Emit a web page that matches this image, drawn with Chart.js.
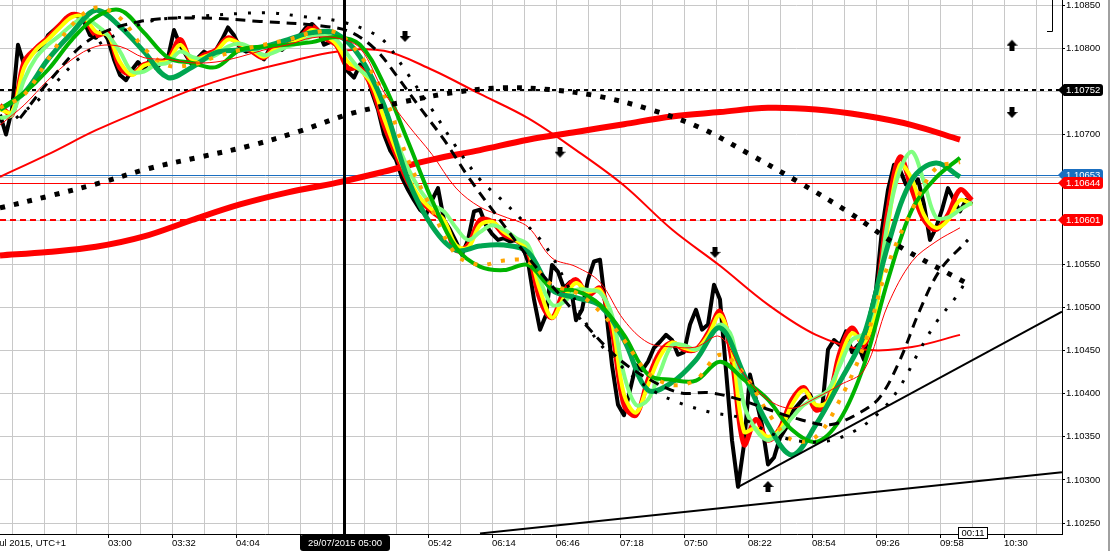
<!DOCTYPE html>
<html>
<head>
<meta charset="utf-8">
<title>EURUSD M1</title>
<script src="https://cdn.jsdelivr.net/npm/chart.js@4.4.1/dist/chart.umd.min.js"></script>
<style>
  html, body { margin: 0; padding: 0; background: #fff; }
  #wrap { width: 1110px; height: 551px; position: relative; }
</style>
</head>
<body>
<div id="wrap"><canvas id="chart" width="1110" height="551"></canvas></div>
<script>
// x = number of 1-minute bars from the left edge of the window
const timeLabels = ['03:00', '03:32', '04:04', '04:36', '05:08', '05:42', '06:14', '06:46',
  '07:18', '07:50', '08:22', '08:54', '09:26', '09:58', '10:30'];
const firstLabelBar = 54;
const labelEvery = 32;
const gridEvery = 16;
const priceTicks = [1.1025, 1.103, 1.1035, 1.104, 1.1045, 1.105, 1.1055, 1.106, 1.1065, 1.107, 1.1075, 1.108, 1.1085];
const viewLow = 1.102374;
const viewHigh = 1.108558;

// price, sampled every 3 bars
const closeStep = 3;
const closes = [
  1.10723, 1.10700, 1.10729, 1.10804, 1.10781, 1.10792, 1.10798, 1.10800, 1.10815, 1.10821,
  1.10827, 1.10835, 1.10839, 1.10837, 1.10831, 1.10815, 1.10812, 1.10821, 1.10810, 1.10787,
  1.10769, 1.10763, 1.10775, 1.10784, 1.10775, 1.10787, 1.10777, 1.10784, 1.10789, 1.10821,
  1.10804, 1.10792, 1.10781, 1.10789, 1.10796, 1.10792, 1.10798, 1.10810, 1.10824, 1.10815,
  1.10800, 1.10796, 1.10798, 1.10792, 1.10787, 1.10800, 1.10804, 1.10798, 1.10805, 1.10807,
  1.10815, 1.10824, 1.10828, 1.10821, 1.10804, 1.10807, 1.10810, 1.10792, 1.10773, 1.10766,
  1.10781, 1.10775, 1.10749, 1.10729, 1.10700, 1.10682, 1.10671, 1.10650, 1.10636, 1.10624,
  1.10613, 1.10607, 1.10624, 1.10638, 1.10601, 1.10590, 1.10576, 1.10561, 1.10578, 1.10611,
  1.10613, 1.10595, 1.10585, 1.10578, 1.10580, 1.10576, 1.10578, 1.10572, 1.10553, 1.10509,
  1.10474, 1.10491, 1.10549, 1.10541, 1.10522, 1.10529, 1.10485, 1.10497, 1.10532, 1.10553,
  1.10555, 1.10497, 1.10433, 1.10387, 1.10375, 1.10404, 1.10433, 1.10427, 1.10437, 1.10453,
  1.10460, 1.10468, 1.10462, 1.10445, 1.10448, 1.10480, 1.10497, 1.10474, 1.10480, 1.10526,
  1.10509, 1.10427, 1.10346, 1.10292, 1.10341, 1.10422, 1.10393, 1.10364, 1.10318, 1.10326,
  1.10349, 1.10360, 1.10379, 1.10387, 1.10395, 1.10399, 1.10383, 1.10381, 1.10451, 1.10462,
  1.10456, 1.10472, 1.10448, 1.10456, 1.10439, 1.10491, 1.10520, 1.10590, 1.10636, 1.10665,
  1.10659, 1.10642, 1.10638, 1.10648, 1.10619, 1.10578, 1.10592, 1.10613, 1.10638, 1.10624,
  1.10611, 1.10624, 1.10619
];

// fast averages, every 6 bars
const fastStep = 6;
const redMa = [
  1.10734, 1.10723, 1.10784, 1.10800, 1.10812, 1.10827, 1.10839, 1.10835, 1.10815, 1.10818,
  1.10777, 1.10770, 1.10781, 1.10783, 1.10787, 1.10810, 1.10784, 1.10792, 1.10798, 1.10812,
  1.10804, 1.10796, 1.10789, 1.10804, 1.10804, 1.10812, 1.10825, 1.10812, 1.10804, 1.10777,
  1.10777, 1.10754, 1.10711, 1.10677, 1.10645, 1.10624, 1.10611, 1.10599, 1.10566, 1.10572,
  1.10601, 1.10599, 1.10584, 1.10578, 1.10564, 1.10509, 1.10488, 1.10518, 1.10532, 1.10514,
  1.10522, 1.10474, 1.10387, 1.10375, 1.10416, 1.10448, 1.10459, 1.10451, 1.10451, 1.10470,
  1.10495, 1.10439, 1.10341, 1.10370, 1.10346, 1.10360, 1.10393, 1.10407, 1.10381, 1.10393,
  1.10448, 1.10476, 1.10456, 1.10509, 1.10613, 1.10674, 1.10636, 1.10601, 1.10590, 1.10607,
  1.10636, 1.10624
];
const yellowMa = [
  1.10729, 1.10726, 1.10777, 1.10798, 1.10810, 1.10824, 1.10836, 1.10836, 1.10819, 1.10815,
  1.10784, 1.10769, 1.10780, 1.10783, 1.10785, 1.10804, 1.10787, 1.10790, 1.10796, 1.10810,
  1.10805, 1.10798, 1.10790, 1.10800, 1.10804, 1.10810, 1.10821, 1.10815, 1.10805, 1.10784,
  1.10775, 1.10758, 1.10719, 1.10682, 1.10650, 1.10627, 1.10613, 1.10601, 1.10572, 1.10569,
  1.10595, 1.10599, 1.10587, 1.10578, 1.10566, 1.10520, 1.10488, 1.10511, 1.10528, 1.10518,
  1.10520, 1.10483, 1.10399, 1.10378, 1.10410, 1.10443, 1.10459, 1.10453, 1.10451, 1.10467,
  1.10491, 1.10451, 1.10356, 1.10360, 1.10350, 1.10358, 1.10387, 1.10404, 1.10387, 1.10391,
  1.10439, 1.10470, 1.10459, 1.10499, 1.10595, 1.10665, 1.10648, 1.10607, 1.10592, 1.10601,
  1.10624, 1.10619
];
const lightGreenMa = [
  1.10719, 1.10723, 1.10763, 1.10789, 1.10804, 1.10815, 1.10827, 1.10835, 1.10827, 1.10815,
  1.10796, 1.10773, 1.10773, 1.10781, 1.10783, 1.10796, 1.10790, 1.10787, 1.10792, 1.10802,
  1.10805, 1.10800, 1.10792, 1.10796, 1.10802, 1.10806, 1.10814, 1.10815, 1.10810, 1.10792,
  1.10775, 1.10763, 1.10734, 1.10694, 1.10661, 1.10636, 1.10619, 1.10611, 1.10592, 1.10578,
  1.10587, 1.10595, 1.10590, 1.10580, 1.10572, 1.10532, 1.10503, 1.10506, 1.10520, 1.10520,
  1.10517, 1.10491, 1.10422, 1.10387, 1.10393, 1.10425, 1.10456, 1.10456, 1.10451, 1.10462,
  1.10480, 1.10465, 1.10387, 1.10358, 1.10346, 1.10356, 1.10372, 1.10387, 1.10395, 1.10404,
  1.10433, 1.10462, 1.10470, 1.10509, 1.10601, 1.10659, 1.10680, 1.10645, 1.10604, 1.10604,
  1.10613, 1.10621
];

// slower averages, every 12 bars
const slowStep = 12;
const tealMa = [
  1.10729, 1.10748, 1.10787, 1.10818, 1.10844, 1.10825, 1.10796, 1.10766, 1.10778, 1.10795,
  1.10798, 1.10802, 1.10810, 1.10818, 1.10817, 1.10790, 1.10734, 1.10648, 1.10594, 1.10566,
  1.10571, 1.10572, 1.10564, 1.10520, 1.10511, 1.10502, 1.10462, 1.10404, 1.10413, 1.10439,
  1.10476, 1.10422, 1.10364, 1.10329, 1.10364, 1.10414, 1.10468, 1.10572, 1.10648, 1.10667,
  1.10651
];
const greenMa = [
  1.10729, 1.10748, 1.10775, 1.10810, 1.10836, 1.10844, 1.10818, 1.10789, 1.10783, 1.10778,
  1.10798, 1.10802, 1.10804, 1.10807, 1.10813, 1.10804, 1.10758, 1.10692, 1.10624, 1.10569,
  1.10547, 1.10543, 1.10549, 1.10522, 1.10519, 1.10503, 1.10468, 1.10422, 1.10416, 1.10415,
  1.10437, 1.10416, 1.10393, 1.10358, 1.10344, 1.10370, 1.10433, 1.10532, 1.10613, 1.10650,
  1.10673
];
const orangeMa = [
  1.10731, 1.10746, 1.10787, 1.10827, 1.10847, 1.10835, 1.10800, 1.10780, 1.10781, 1.10790,
  1.10798, 1.10804, 1.10810, 1.10818, 1.10818, 1.10792, 1.10746, 1.10671, 1.10613, 1.10561,
  1.10549, 1.10554, 1.10553, 1.10526, 1.10517, 1.10495, 1.10462, 1.10424, 1.10410, 1.10416,
  1.10445, 1.10423, 1.10378, 1.10346, 1.10350, 1.10393, 1.10456, 1.10549, 1.10613, 1.10661,
  1.10668
];
const thinRedMa = [
  1.10711, 1.10734, 1.10763, 1.10787, 1.10802, 1.10802, 1.10789, 1.10787, 1.10783, 1.10784,
  1.10790, 1.10798, 1.10804, 1.10812, 1.10812, 1.10800, 1.10749, 1.10711, 1.10677, 1.10638,
  1.10616, 1.10605, 1.10593, 1.10557, 1.10547, 1.10529, 1.10485, 1.10459, 1.10454, 1.10454,
  1.10466, 1.10422, 1.10393, 1.10383, 1.10395, 1.10410, 1.10427, 1.10503, 1.10553, 1.10576,
  1.10592
];

// long averages, every 24 bars
const longStep = 24;
const midRedMa = [1.10651, 1.10677, 1.10705, 1.10729, 1.10752, 1.10770, 1.10784, 1.10796, 1.10797, 1.10775,
  1.10747, 1.10719, 1.10682, 1.10641, 1.10590, 1.10548, 1.10503, 1.10468, 1.10451, 1.10454, 1.10468];
const thickRedMa = [1.10560, 1.10564, 1.10570, 1.10582, 1.10601, 1.10619, 1.10633, 1.10644, 1.10657, 1.10671,
  1.10682, 1.10694, 1.10703, 1.10712, 1.10721, 1.10726, 1.10731, 1.10729, 1.10722, 1.10711, 1.10694];

// black centred averages (bar, price)
const boldDotBars = [0, 25, 50, 75, 100, 125, 150, 175, 200, 225, 250, 275, 300, 325, 350, 375, 400, 425, 450, 484];
const boldDotVals = [1.10615, 1.10629, 1.10644, 1.10661, 1.10674, 1.10687, 1.10704, 1.10724, 1.10737, 1.10748,
  1.10754, 1.10752, 1.10744, 1.10729, 1.10708, 1.10677, 1.10644, 1.10609, 1.10570, 1.10527];
const dashBars = [10, 25, 45, 70, 100, 130, 160, 175, 188, 198, 210, 222, 235, 250, 265, 280, 295, 310, 325, 340,
  355, 370, 385, 400, 415, 430, 440, 450, 460, 470, 484];
const dashVals = [1.10719, 1.10763, 1.10810, 1.10831, 1.10835, 1.10831, 1.10826, 1.10819, 1.10798, 1.10769,
  1.10731, 1.10694, 1.10648, 1.10601, 1.10555, 1.10514, 1.10474, 1.10439, 1.10416, 1.10401,
  1.10401, 1.10393, 1.10381, 1.10370, 1.10364, 1.10378, 1.10396, 1.10439, 1.10497, 1.10543, 1.10578];
const dotBars = [8, 22, 40, 55, 75, 100, 133, 150, 170, 185, 193, 203, 216, 228, 240, 251, 261, 273, 285, 296,
  311, 326, 340, 356, 370, 390, 410, 426, 441, 450, 460, 468, 478, 484];
const dotVals = [1.10719, 1.10746, 1.10789, 1.10812, 1.10831, 1.10837, 1.10841, 1.10837, 1.10831, 1.10819,
  1.10806, 1.10773, 1.10729, 1.10686, 1.10648, 1.10624, 1.10601, 1.10570, 1.10520, 1.10470,
  1.10431, 1.10404, 1.10389, 1.10378, 1.10372, 1.10350, 1.10344, 1.10355, 1.10381, 1.10408,
  1.10451, 1.10482, 1.10512, 1.10534];

// trend lines
const trendUpperBars = [368.5, 531];
const trendUpperVals = [1.10291, 1.10495];
const trendLowerBars = [240, 531];
const trendLowerVals = [1.10238, 1.10309];

// signal arrows
const sellBars = [202.5, 280, 357.5, 506];
const sellVals = [1.10813, 1.10679, 1.10563, 1.10725];
const buyBars = [506, 384];
const buyVals = [1.10804, 1.10293];

// price levels
const levelDotted = 1.10752;
const askPrice = 1.10653;
const bidPrice = 1.10644;
const levelRed = 1.10601;
const cursorBar = 172;
const cursorLabel = '29/07/2015 05:00';
const lastBar = 486;
const barTimer = '00:11';
const startLabel = '28 Jul 2015, UTC+1';

const FONT = "'Liberation Sans', Arial, sans-serif";
Chart.defaults.font.family = FONT;
Chart.defaults.font.size = 9.5;
Chart.defaults.color = '#000';

function stepped(vals, step) {
  return vals.map((v, i) => ({ x: i * step, y: v }));
}
function paired(bars, vals) {
  return bars.map((b, i) => ({ x: b, y: vals[i] }));
}

function arrowImage(up) {
  const c = document.createElement('canvas');
  c.width = 11;
  c.height = 12;
  const g = c.getContext('2d');
  if (up) { g.translate(0, 12); g.scale(1, -1); }
  g.fillStyle = '#000';
  g.fillRect(3, 0, 5, 6);
  g.beginPath();
  g.moveTo(0, 5);
  g.lineTo(11, 5);
  g.lineTo(5.5, 11);
  g.closePath();
  g.fill();
  return c;
}

function line(label, data, color, width, order, extra) {
  return Object.assign({
    label, data, borderColor: color, borderWidth: width, order,
    pointRadius: 0, tension: 0.35, fill: false, borderJoinStyle: 'round'
  }, extra || {});
}

// scales must not reserve room for their outer labels
function noPadding(scale) {
  scale.paddingTop = 0;
  scale.paddingBottom = 0;
  scale.paddingLeft = 0;
  scale.paddingRight = 0;
}

const overlay = {
  id: 'overlay',
  beforeDatasetsDraw(chart) {
    const { ctx, chartArea: a, scales: { y } } = chart;
    ctx.save();
    const hline = (v, color, width, dash) => {
      const py = Math.round(y.getPixelForValue(v)) + (width % 2 ? 0.5 : 0);
      ctx.strokeStyle = color;
      ctx.lineWidth = width;
      ctx.setLineDash(dash);
      ctx.beginPath();
      ctx.moveTo(a.left, py);
      ctx.lineTo(a.right, py);
      ctx.stroke();
    };
    hline(levelDotted, '#000', 2, [4, 4]);
    hline(askPrice, '#1a6fc0', 1, []);
    hline(bidPrice, '#ff0000', 1, []);
    hline(levelRed, '#ff0000', 2, [6, 4]);
    ctx.restore();
  },
  afterDatasetsDraw(chart) {
    const { ctx, chartArea: a, scales: { x } } = chart;
    const px = Math.round(x.getPixelForValue(cursorBar));
    ctx.save();
    ctx.fillStyle = '#000';
    ctx.fillRect(px - 1, a.top, 3, a.bottom - a.top);
    ctx.restore();
  },
  afterDraw(chart) {
    const { ctx, chartArea: a, scales: { x, y } } = chart;
    ctx.save();
    ctx.font = '9.5px ' + FONT;
    ctx.textBaseline = 'middle';

    // price tags on the right axis
    const tag = (v, bg) => {
      const py = Math.round(y.getPixelForValue(v));
      const x0 = a.right - 4;
      ctx.fillStyle = bg;
      ctx.beginPath();
      ctx.moveTo(x0, py);
      ctx.lineTo(x0 + 6, py - 6);
      ctx.lineTo(a.right + 38, py - 6);
      ctx.quadraticCurveTo(a.right + 41, py - 6, a.right + 41, py - 3);
      ctx.lineTo(a.right + 41, py + 3);
      ctx.quadraticCurveTo(a.right + 41, py + 6, a.right + 38, py + 6);
      ctx.lineTo(x0 + 6, py + 6);
      ctx.closePath();
      ctx.fill();
      ctx.fillStyle = '#fff';
      ctx.textAlign = 'left';
      ctx.fillText(v.toFixed(5), a.right + 4, py + 0.5);
    };
    tag(levelDotted, '#000');
    tag(askPrice, '#1a6fc0');
    tag(bidPrice, '#ff0000');
    tag(levelRed, '#ff0000');

    // cursor time box
    const cx = x.getPixelForValue(cursorBar);
    ctx.fillStyle = '#000';
    ctx.beginPath();
    ctx.roundRect(cx - 44, a.bottom + 1, 90, 16, 3);
    ctx.fill();
    ctx.fillStyle = '#fff';
    ctx.textAlign = 'center';
    ctx.fillText(cursorLabel, cx + 1, a.bottom + 9.5);

    // bar timer box
    const lx = x.getPixelForValue(lastBar);
    ctx.fillStyle = '#fff';
    ctx.fillRect(lx - 14, a.bottom - 7, 30, 11);
    ctx.strokeStyle = '#000';
    ctx.lineWidth = 1;
    ctx.strokeRect(lx - 13.5, a.bottom - 6.5, 29, 11);
    ctx.fillStyle = '#000';
    ctx.fillText(barTimer, lx + 1, a.bottom - 1);

    // first date label, clipped at the left edge
    ctx.textAlign = 'right';
    ctx.fillText(startLabel, 66, a.bottom + 9.5);

    // indicator bracket, top right
    ctx.strokeStyle = '#000';
    ctx.beginPath();
    ctx.moveTo(a.right - 15, 31.5);
    ctx.lineTo(a.right - 9.5, 31.5);
    ctx.lineTo(a.right - 9.5, 0);
    ctx.stroke();

    // window frame on the right
    ctx.fillStyle = '#a0a0a0';
    ctx.fillRect(chart.width - 2, 0, 2, chart.height);
    ctx.restore();
  }
};

new Chart(document.getElementById('chart'), {
  type: 'line',
  data: {
    datasets: [
      line('Sell', paired(sellBars, sellVals), '#000', 0, 1,
        { showLine: false, pointRadius: 5, pointStyle: arrowImage(false) }),
      line('Buy', paired(buyBars, buyVals), '#000', 0, 1,
        { showLine: false, pointRadius: 5, pointStyle: arrowImage(true) }),
      line('Trend upper', paired(trendUpperBars, trendUpperVals), '#000', 2, 2, { tension: 0 }),
      line('Trend lower', paired(trendLowerBars, trendLowerVals), '#000', 2, 2, { tension: 0 }),
      line('Centred A', paired(boldDotBars, boldDotVals), '#000', 5, 3, { borderDash: [5, 9] }),
      line('Centred B', paired(dashBars, dashVals), '#000', 3, 3, { borderDash: [10, 7] }),
      line('Centred C', paired(dotBars, dotVals), '#000', 3, 3, { borderDash: [3, 11] }),
      line('Thin red', stepped(thinRedMa, slowStep), '#ff0000', 1, 4),
      line('Orange', stepped(orangeMa, slowStep), '#ffa500', 4, 5, { borderDash: [4, 10] }),
      line('Green', stepped(greenMa, slowStep), '#00b400', 4, 6),
      line('Teal', stepped(tealMa, slowStep), '#00a651', 5, 7),
      line('Light green', stepped(lightGreenMa, fastStep), '#80ff80', 4, 8),
      line('Yellow', stepped(yellowMa, fastStep), '#ffff00', 4, 9),
      line('Red', stepped(redMa, fastStep), '#ff0000', 5, 10),
      line('Mid red', stepped(midRedMa, longStep), '#ff0000', 2, 11),
      line('Thick red', stepped(thickRedMa, longStep), '#ff0000', 6, 12),
      line('Price', stepped(closes, closeStep), '#000', 4, 13, { tension: 0 })
    ]
  },
  options: {
    responsive: false,
    animation: false,
    devicePixelRatio: 1,
    layout: { padding: 0, autoPadding: false },
    plugins: { legend: { display: false }, tooltip: { enabled: false } },
    scales: {
      x: {
        type: 'linear',
        min: 0,
        max: 531,
        afterBuildTicks(scale) {
          const ticks = [];
          for (let b = firstLabelBar - 3 * gridEvery; b < scale.max; b += gridEvery) ticks.push({ value: b });
          scale.ticks = ticks;
        },
        afterFit(scale) {
          scale.height = 17;
          noPadding(scale);
        },
        grid: {
          color: '#c8c8c8',
          tickLength: 4,
          tickColor: (c) => (c.tick && c.tick.label ? '#000' : 'rgba(0,0,0,0)')
        },
        border: { color: '#000' },
        ticks: {
          align: 'start',
          autoSkip: false,
          maxRotation: 0,
          padding: 0,
          callback(value) {
            const k = (value - firstLabelBar) / labelEvery;
            return Number.isInteger(k) && k >= 0 && k < timeLabels.length ? timeLabels[k] : '';
          }
        }
      },
      y: {
        type: 'linear',
        position: 'right',
        min: viewLow,
        max: viewHigh,
        afterBuildTicks(scale) {
          scale.ticks = priceTicks.map((v) => ({ value: v }));
        },
        afterFit(scale) {
          scale.width = 48;
          noPadding(scale);
        },
        grid: { color: '#c8c8c8', tickLength: 3, tickColor: '#000' },
        border: { color: '#000' },
        ticks: {
          autoSkip: false,
          padding: 1,
          callback: (v) => v.toFixed(5)
        }
      }
    }
  },
  plugins: [overlay]
});
</script>
</body>
</html>
